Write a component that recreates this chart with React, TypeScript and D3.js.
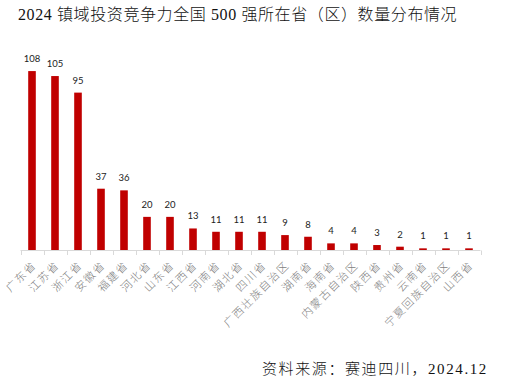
import React from 'react';
import * as d3 from 'd3';

const categories = ['广东省','江苏省','浙江省','安徽省','福建省','河北省','山东省','江西省','河南省','湖北省','四川省','广西壮族自治区','湖南省','海南省','内蒙古自治区','陕西省','贵州省','云南省','宁夏回族自治区','山西省'];
const values = [108,105,95,37,36,20,20,13,11,11,11,9,8,4,4,3,2,1,1,1];
const title = '2024 镇域投资竞争力全国 500 强所在省（区）数量分布情况';
const source = '资料来源：赛迪四川，2024.12';

export default function App() {
  const W = 509, H = 382;
  const x = d3.scaleBand<string>().domain(categories).range([20.5, 480.5]).paddingInner(0).paddingOuter(0);
  const y = d3.scaleLinear().domain([0, 120]).range([250, 51.2]);
  const barW = 7.6;
  const serif = '"Liberation Serif", "Noto Sans CJK SC", serif';
  const cjk = '"Noto Sans CJK SC", sans-serif';
  const ticks = [...categories.map(c => x(c)!), 480.5];
  return (
    <svg width={W} height={H} style={{ position: 'absolute', left: 0, top: 0, background: '#fff' }}>
      <text x={18} y={20} fontSize={16} fontFamily={serif} fill="#111" letterSpacing={0.6} fontWeight={300}>{title}</text>
      <line x1={20.5} x2={480.5} y1={250.5} y2={250.5} stroke="#d9d9d9" strokeWidth={1} />
      {ticks.map((t, i) => (
        <line key={i} x1={Math.round(t) + 0.5} x2={Math.round(t) + 0.5} y1={250.5} y2={255} stroke="#d9d9d9" strokeWidth={1} />
      ))}
      {categories.map((c, i) => {
        const cx = x(c)! + x.bandwidth() / 2;
        return (
          <g key={c}>
            <rect x={cx - barW / 2} y={y(values[i])} width={barW} height={250 - y(values[i])} fill="#C00000" />
            <text x={cx} y={y(values[i]) - 9} textAnchor="middle" fontSize={9.5} fontFamily='Lato, "Open Sans", sans-serif' fill="#222">{values[i]}</text>
            <text transform={`translate(${cx + 5},${266}) rotate(-45)`} textAnchor="end" fontSize={11} fontFamily={cjk} fill="#808080" letterSpacing={1.5} fontWeight={300}>{c}</text>
          </g>
        );
      })}
      <text x={262} y={374} fontSize={15} fontFamily={serif} fill="#111" letterSpacing={1.6} fontWeight={300}>{source}</text>
    </svg>
  );
}
